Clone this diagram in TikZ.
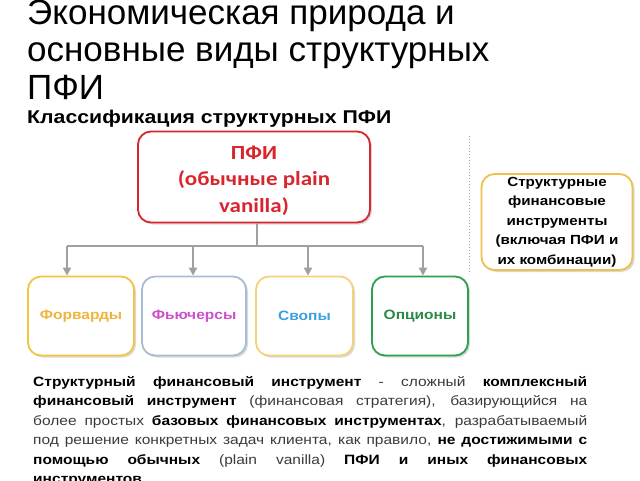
\documentclass[tikz,border=0pt]{standalone}
\usepackage{fontspec}
\setmainfont[FakeStretch=1.15]{Liberation Sans}
\newfontfamily\titlefont{Liberation Sans}
\newfontfamily\calibrifont[FakeStretch=1.15]{Carlito}
\usetikzlibrary{shadows,arrows.meta}
\definecolor{pfired}{HTML}{D9252E}
\definecolor{forwline}{HTML}{F5C342}
\definecolor{forwtext}{HTML}{F0B43C}
\definecolor{futline}{HTML}{A9BCD6}
\definecolor{futtext}{HTML}{CC4FCC}
\definecolor{swapline}{HTML}{F4D27A}
\definecolor{swaptext}{HTML}{3AA0DE}
\definecolor{optline}{HTML}{2E9E52}
\definecolor{opttext}{HTML}{2A8A4A}
\definecolor{sfiline}{HTML}{EFC04A}
\definecolor{linkgrey}{HTML}{A0A0A0}
\definecolor{plaintext}{HTML}{3A3A3A}
\tikzset{
  box/.style={draw, rounded corners=13pt, line width=1.8pt, fill=white,
    drop shadow={shadow xshift=2pt, shadow yshift=-2pt, opacity=0.3},
    align=center, font=\bfseries\fontsize{13.5}{19.5}\selectfont},
  kind/.style={box, minimum height=79pt},
  link/.style={draw=linkgrey, line width=2.4pt},
  linkarrow/.style={link, -{Triangle[length=8pt,width=8pt]}}
}
\begin{document}
\begin{tikzpicture}[x=1pt,y=-1pt]
\useasboundingbox (0,0) rectangle (640,480);
% Title
\node[anchor=base west, align=left, inner sep=0pt,
  font=\titlefont\fontsize{35}{37.5}\selectfont] (title) at (27,99)
  {Экономическая природа и\\основные виды структурных\\ПФИ};
\node[anchor=base west, inner sep=0pt, font=\bfseries\fontsize{18.5}{20}\selectfont]
  (subtitle) at (27,123) {Классификация структурных ПФИ};
% Main box
\node[box, draw=pfired, text=pfired, minimum width=232pt, minimum height=91pt,
  text height=75pt, text depth=5pt,
  font=\calibrifont\bfseries\fontsize{20}{26.5}\selectfont] (pfi) at (254,177)
  {ПФИ\\(обычные plain\\vanilla)};
% Kinds of derivatives
\node[kind, draw=forwline, text=forwtext, minimum width=106pt] (forw) at (81,316) {Форварды};
\node[kind, draw=futline, text=futtext, minimum width=104pt] (fut) at (194,316) {Фьючерсы};
\node[kind, draw=swapline, text=swaptext, minimum width=97pt] (swap) at (304.5,316) {Свопы};
\node[kind, draw=optline, text=opttext, minimum width=96pt] (opt) at (420,316) {Опционы};
% Structured instruments
\node[box, draw=sfiline, text=black, minimum width=151pt, minimum height=96pt,
  inner sep=1pt, font=\bfseries\fontsize{13.2}{19.6}\selectfont] (sfi) at (557,222)
  {Структурные\\финансовые\\инструменты\\(включая ПФИ и\\их комбинации)};
% Separator
\coordinate (septop) at (469,136);
\coordinate (sepbot) at (469,274);
\draw[dotted, line width=1pt, gray!70] (septop) -- (sepbot);
% Tree links
\coordinate (bus)   at (257,246);
\coordinate (drop1) at (67,246);
\coordinate (drop2) at (193,246);
\coordinate (drop3) at (308,246);
\coordinate (drop4) at (423,246);
\draw[link] (pfi.south -| bus) -- (bus);
\draw[link] (drop1) -- (drop4);
\draw[linkarrow] (drop1) -- (drop1 |- forw.north);
\draw[linkarrow] (drop2) -- (drop2 |- fut.north);
\draw[linkarrow] (drop3) -- (drop3 |- swap.north);
\draw[linkarrow] (drop4) -- (drop4 |- opt.north);
% Definition
\node[anchor=north west, inner sep=0pt, text width=554pt, align=justify, text=plaintext,
  font=\fontsize{13.5}{19.5}\selectfont] (definition) at (33,376)
  {\hyphenpenalty=10000\exhyphenpenalty=10000\tolerance=10000\emergencystretch=20pt
   \textcolor{black}{\textbf{Структурный финансовый инструмент}} - сложный \textcolor{black}{\textbf{комплексный}}\linebreak
   \textcolor{black}{\textbf{финансовый инструмент}} (финансовая стратегия), базирующийся на\linebreak
   более простых \textcolor{black}{\textbf{базовых финансовых инструментах}}, разрабатываемый\linebreak
   под решение конкретных задач клиента, как правило, \textcolor{black}{\textbf{не достижимыми с}}\linebreak
   \textcolor{black}{\textbf{помощью обычных}} (plain vanilla) \textcolor{black}{\textbf{ПФИ и иных финансовых}}\linebreak
   \textcolor{black}{\textbf{инструментов}}.};
\end{tikzpicture}
\end{document}
